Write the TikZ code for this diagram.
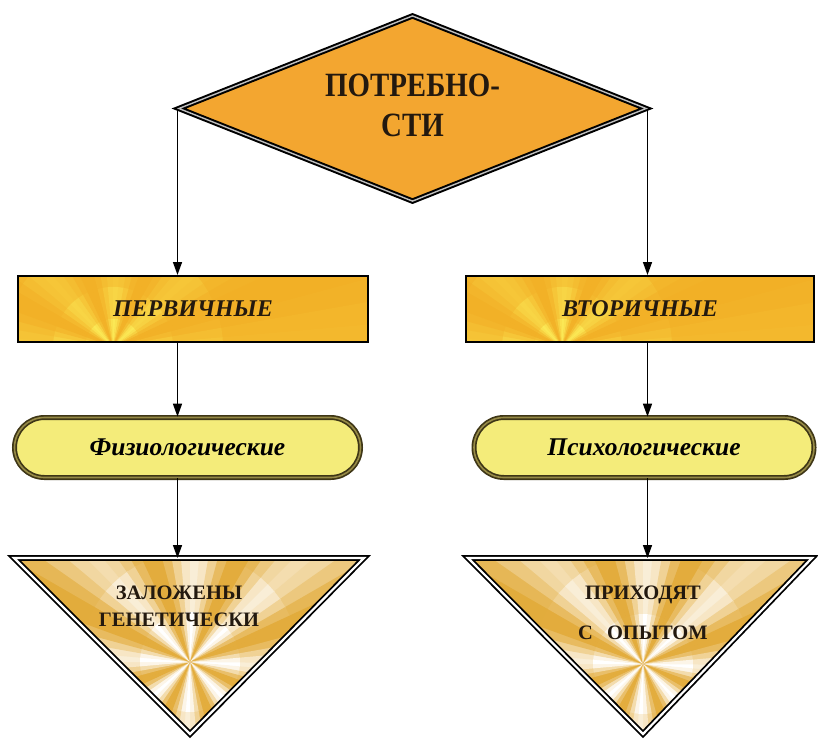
\documentclass[tikz,border=0pt]{standalone}
\usepackage{fontspec}
\setmainfont{Liberation Serif}
\newfontfamily\potrfont[FakeStretch=0.85]{Liberation Serif}
\usetikzlibrary{shapes.geometric,shapes.misc,arrows.meta}

\definecolor{potrorange}{RGB}{243,166,48}
\definecolor{rectgold}{RGB}{242,176,38}
\definecolor{raylight}{RGB}{252,238,90}
\definecolor{pillfill}{RGB}{244,236,122}
\definecolor{pilledge}{RGB}{62,54,22}
\definecolor{pillmid}{RGB}{150,138,70}
\definecolor{trigold}{RGB}{226,170,56}
\definecolor{inktext}{RGB}{35,25,15}

\tikzset{
  rays/.style n args={4}{path picture={
      \foreach \r/\k in {#4}{
        \foreach \a in {0,5,...,355}{
          \pgfmathsetmacro\m{100-100*\k*(0.5+0.5*cos(8*\a))}
          \fill[#2!\m!#3] (#1) -- +(\a:\r) -- +({\a+5.5}:\r) -- cycle;
        }}}},
  diam/.style={diamond, aspect=2.5, draw=black, line width=2pt,
    double=gray!50, double distance=1.4pt, fill=potrorange,
    minimum width=468pt, minimum height=186pt, inner sep=0pt,
    align=center, text=inktext,
    font=\potrfont\bfseries\fontsize{34}{40}\selectfont},
  kind/.style={rectangle, draw=black, line width=2pt, fill=rectgold,
    minimum height=66pt, inner sep=0pt, text=inktext,
    font=\bfseries\itshape\fontsize{24}{28}\selectfont},
  pill/.style={rounded rectangle, draw=pilledge, line width=1.7pt,
    double=pillmid, double distance=1.6pt, fill=pillfill,
    minimum height=60pt, inner sep=0pt, text=black,
    font=\bfseries\itshape\fontsize{25.5}{30}\selectfont},
  tri/.style={draw=black, line width=1.8pt, double=white,
    double distance=2.2pt, line join=miter},
  tritext/.style={align=center, text=inktext, inner sep=0pt,
    font=\bfseries\fontsize{20.5}{24}\selectfont},
  arr/.style={-{Triangle[length=13pt,width=9pt]}, line width=1.4pt}
}

\begin{document}
\begin{tikzpicture}[x=1pt,y=-1pt]
  \useasboundingbox[fill=white] (0,0) rectangle (818,740);

  % top
  \node[diam] (potr) at (412.5,108.5)
    {\raisebox{8pt}{\begin{tabular}{c}ПОТРЕБНО-\\СТИ\end{tabular}}};

  % two kinds
  \node[kind, minimum width=350pt,
    rays={0,30}{rectgold}{raylight}{400/0.15,110/0.35,60/0.6,28/0.9}]
    (perv) at (193,309) {ПЕРВИЧНЫЕ};
  \node[kind, minimum width=348pt,
    rays={0,30}{rectgold}{raylight}{400/0.15,110/0.35,60/0.6,28/0.9}]
    (vtor) at (640,309) {ВТОРИЧНЫЕ};

  \node[pill, minimum width=346pt] (fiz) at (187.5,447.5) {Физиологические};
  \node[pill, minimum width=340pt] (psih) at (644,447.5) {Психологические};

  % triangles
  \coordinate (zl) at (14,558);
  \coordinate (zr) at (364,558);
  \coordinate (zb) at (190,734);
  \coordinate (ol) at (468,558);
  \coordinate (or) at (812,558);
  \coordinate (ob) at (643,734);
  \path[tri, fill=trigold,
    rays={190,662}{trigold}{white}{500/0.6,110/0.8,50/1}]
    (zl) -- (zr) -- (zb) -- cycle;
  \path[tri, fill=trigold,
    rays={643,664}{trigold}{white}{500/0.6,110/0.8,50/1}]
    (ol) -- (or) -- (ob) -- cycle;
  \node[tritext] (zal) at (179,606) {ЗАЛОЖЕНЫ\\[3pt]ГЕНЕТИЧЕСКИ};
  \node[tritext] (prih) at (643,613) {ПРИХОДЯТ\\[16pt]С\hspace{14pt}ОПЫТОМ};

  % arrows
  \draw[arr] (potr.west) -- (potr.west |- perv.north);
  \draw[arr] (potr.east) -- (potr.east |- vtor.north);
  \draw[arr] (potr.west |- perv.south) -- (potr.west |- fiz.north);
  \draw[arr] (potr.east |- vtor.south) -- (potr.east |- psih.north);
  \draw[arr] (potr.west |- fiz.south) -- (potr.west |- zl);
  \draw[arr] (potr.east |- psih.south) -- (potr.east |- ol);
\end{tikzpicture}
\end{document}
